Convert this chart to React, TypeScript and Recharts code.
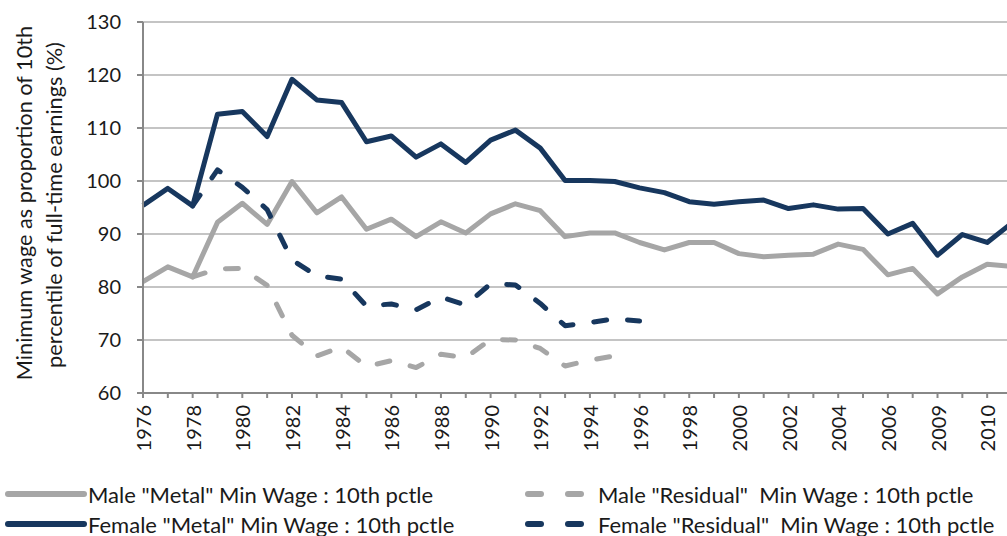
import { CartesianGrid, Label, Line, LineChart, XAxis, YAxis } from 'recharts'

const years = [
  '1976', '1977', '1978', '1979', '1980', '1981', '1982', '1983', '1984', '1985',
  '1986', '1987', '1988', '1989', '1990', '1991', '1992', '1993', '1994', '1995',
  '1996', '1997', '1998', '1999', '2000', '2001', '2002', '2003', '2004', '2005',
  '2006', '2007', '2009', '2009', '2010', '2011',
]

const maleMetal = [
  81.0, 83.8, 81.9, 92.2, 95.8, 91.8, 99.9, 94.0, 97.0, 90.9,
  92.8, 89.5, 92.3, 90.2, 93.8, 95.7, 94.4, 89.5, 90.2, 90.2,
  88.4, 87.0, 88.4, 88.4, 86.3, 85.7, 86.0, 86.2, 88.1, 87.1,
  82.3, 83.5, 78.7, 81.9, 84.3, 83.9,
]

const femaleMetal = [
  95.4, 98.6, 95.3, 112.6, 113.1, 108.4, 119.2, 115.3, 114.8, 107.4,
  108.5, 104.5, 107.0, 103.5, 107.7, 109.6, 106.2, 100.1, 100.1, 99.9,
  98.7, 97.8, 96.1, 95.6, 96.1, 96.4, 94.8, 95.5, 94.7, 94.8,
  90.0, 92.0, 86.0, 89.9, 88.4, 92.1,
]

const maleResidual = [
  null, null, 81.9, 83.4, 83.5, 80.3, 70.9, 67.0, 68.7, 65.0,
  66.1, 64.8, 67.3, 66.7, 70.1, 70.0, 68.4, 65.1, 66.2, 67.0,
]

const femaleResidual = [
  null, null, 95.3, 102.1, 98.8, 94.6, 85.1, 82.1, 81.5, 76.4,
  76.8, 75.7, 78.1, 76.6, 80.6, 80.4, 76.9, 72.7, 73.3, 74.0,
  73.6,
]

const yTicks = [60, 70, 80, 90, 100, 110, 120, 130]

const GREY = '#a6a6a6'
const NAVY = '#17375e'
const INK = '#1a1a1a'
const AXIS = '#888888'
const FONT = 'Lato, sans-serif'

const series = [
  { key: 'maleMetal', name: 'Male "Metal" Min Wage : 10th pctle', color: GREY, dashed: false },
  { key: 'femaleMetal', name: 'Female "Metal" Min Wage : 10th pctle', color: NAVY, dashed: false },
  { key: 'maleResidual', name: 'Male "Residual"  Min Wage : 10th pctle', color: GREY, dashed: true },
  { key: 'femaleResidual', name: 'Female "Residual"  Min Wage : 10th pctle', color: NAVY, dashed: true },
]

const data = years.map((year, i) => ({
  year,
  maleMetal: maleMetal[i],
  femaleMetal: femaleMetal[i],
  maleResidual: maleResidual[i] ?? null,
  femaleResidual: femaleResidual[i] ?? null,
}))

const YearTick = (props: any) => {
  const { x, y, payload, index } = props
  if (index % 2 === 1) return <g />
  return (
    <text
      x={x}
      y={y + 5}
      transform={`rotate(-90, ${x}, ${y + 5})`}
      textAnchor="end"
      dominantBaseline="central"
      fontFamily={FONT}
      fontSize={20}
      fill={INK}
    >
      {payload.value}
    </text>
  )
}

const YTitle = () => (
  <g fontFamily={FONT} fontSize={21.7} fill={INK} textAnchor="middle">
    <text x={32} y={203} transform="rotate(-90, 32, 203)">
      Minimum wage as proportion of 10th
    </text>
    <text x={62} y={205} transform="rotate(-90, 62, 205)">
      percentile of full-time earnings (%)
    </text>
  </g>
)

function LegendBox() {
  const rows = [
    { y: 494, left: series[0], right: series[2] },
    { y: 524, left: series[1], right: series[3] },
  ]
  return (
    <svg width={1007} height={536} style={{ position: 'absolute', left: 0, top: 0, pointerEvents: 'none' }}>
      {rows.map((r) => (
        <g key={r.y} fontFamily={FONT} fontSize={22} fill={INK}>
          <line x1={8} x2={84} y1={r.y} y2={r.y} stroke={r.left.color} strokeWidth={6} strokeLinecap="round" />
          <text x={88} y={r.y} dominantBaseline="central" style={{ whiteSpace: 'pre' }}>{r.left.name}</text>
          <line x1={528} x2={541} y1={r.y} y2={r.y} stroke={r.right.color} strokeWidth={6} strokeLinecap="round" />
          <line x1={568} x2={581} y1={r.y} y2={r.y} stroke={r.right.color} strokeWidth={6} strokeLinecap="round" />
          <text x={598} y={r.y} dominantBaseline="central" style={{ whiteSpace: 'pre' }}>{r.right.name}</text>
        </g>
      ))}
    </svg>
  )
}

export default function App() {
  return (
    <div style={{ position: 'absolute', left: 0, top: 0, width: 1007, height: 536, overflow: 'hidden', background: '#fff' }}>
      <LineChart width={1030} height={470} data={data} margin={{ top: 22, right: 18, left: 0, bottom: 0 }}>
        <CartesianGrid vertical={false} stroke="#c4c4c4" strokeWidth={1.8} />
        <XAxis
          dataKey="year"
          interval={0}
          height={77}
          tick={<YearTick />}
          tickSize={5}
          axisLine={{ stroke: AXIS, strokeWidth: 2 }}
          tickLine={{ stroke: AXIS, strokeWidth: 2 }}
        />
        <YAxis
          domain={[60, 130]}
          ticks={yTicks}
          width={143}
          tickSize={6}
          tickMargin={16}
          interval={0}
          tick={{ fontFamily: FONT, fontSize: 20, fill: INK }}
          axisLine={{ stroke: AXIS, strokeWidth: 2 }}
          tickLine={{ stroke: AXIS, strokeWidth: 2 }}
        >
          <Label content={<YTitle />} />
        </YAxis>
        {series.map((s) => (
          <Line
            key={s.key}
            type="linear"
            dataKey={s.key}
            name={s.name}
            stroke={s.color}
            strokeWidth={5}
            strokeDasharray={s.dashed ? '13 21' : undefined}
            strokeLinecap={s.dashed ? 'round' : 'butt'}
            strokeLinejoin="round"
            dot={false}
            activeDot={false}
            isAnimationActive={false}
          />
        ))}
      </LineChart>
      <LegendBox />
    </div>
  )
}
